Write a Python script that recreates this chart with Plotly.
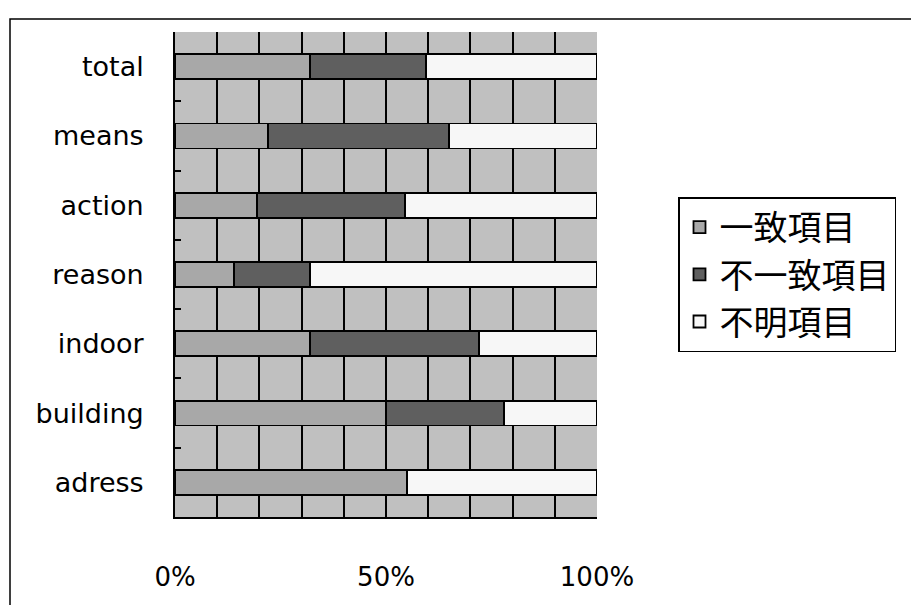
import plotly.graph_objects as go

# Categories, listed top to bottom
categories = ["total", "means", "action", "reason", "indoor", "building", "adress"]

# Share of items (%) per category
match_pct = [32, 22, 19.5, 14, 32, 50, 55]
mismatch_pct = [27.5, 43, 35, 18, 40, 28, 0]
unknown_pct = [40.5, 35, 45.5, 68, 28, 22, 45]

series_names = ["一致項目", "不一致項目", "不明項目"]
series_colors = ["#A8A8A8", "#5F5F5F", "#F7F7F7"]

x_tick_vals = [0, 10, 20, 30, 40, 50, 60, 70, 80, 90, 100]
x_tick_text = ["0%", "", "", "", "", "50%", "", "", "", "", "100%"]

W, H = 911, 605
L, R, T, B = 175, 314, 32, 88
plot_w = W - L - R
plot_h = H - T - B


def px_x(p):
    return (p - L) / plot_w


def px_y(p):
    return (H - B - p) / plot_h


fig = go.Figure()
for name, vals, color in zip(series_names, [match_pct, mismatch_pct, unknown_pct], series_colors):
    fig.add_trace(go.Bar(
        y=categories,
        x=vals,
        name=name,
        orientation="h",
        marker=dict(color=color, line=dict(color="#000000", width=1.8)),
        legendgroup=name,
    ))

fig.update_layout(
    width=W,
    height=H,
    margin=dict(l=L, r=R, t=T, b=B),
    barmode="stack",
    bargap=0.64,
    paper_bgcolor="#FFFFFF",
    plot_bgcolor="#C0C0C0",
    font=dict(family="DejaVu Sans", color="#000000"),
    showlegend=True,
    legend=dict(
        x=px_x(678),
        y=px_y(197),
        xanchor="left",
        yanchor="top",
        bordercolor="#000000",
        borderwidth=1.5,
        bgcolor="#FFFFFF",
        font=dict(family="Noto Sans CJK JP", size=34, color="#000000"),
        traceorder="grouped",
        tracegroupgap=0,
        itemwidth=30,
    ),
    xaxis=dict(
        range=[0, 100],
        tickvals=x_tick_vals,
        ticktext=x_tick_text,
        showgrid=True,
        gridcolor="#000000",
        gridwidth=1.8,
        zeroline=False,
        showline=True,
        linecolor="#000000",
        linewidth=1.8,
        ticks="",
        ticklabelstandoff=36,
        tickfont=dict(family="DejaVu Sans", size=26),
        fixedrange=True,
    ),
    yaxis=dict(
        categoryorder="array",
        categoryarray=categories,
        autorange="reversed",
        showgrid=False,
        showline=True,
        linecolor="#000000",
        linewidth=1.8,
        ticks="inside",
        tickson="boundaries",
        ticklen=6,
        tickwidth=1.8,
        tickcolor="#000000",
        ticklabelstandoff=24,
        tickfont=dict(family="DejaVu Sans", size=27),
        fixedrange=True,
    ),
    shapes=[
        dict(
            type="rect",
            xref="paper",
            yref="paper",
            x0=px_x(10),
            x1=px_x(W + 20),
            y0=px_y(H + 20),
            y1=px_y(19),
            line=dict(color="#000000", width=1.5),
            fillcolor="rgba(0,0,0,0)",
            layer="below",
        )
    ],
)

fig.write_html("out.html")
